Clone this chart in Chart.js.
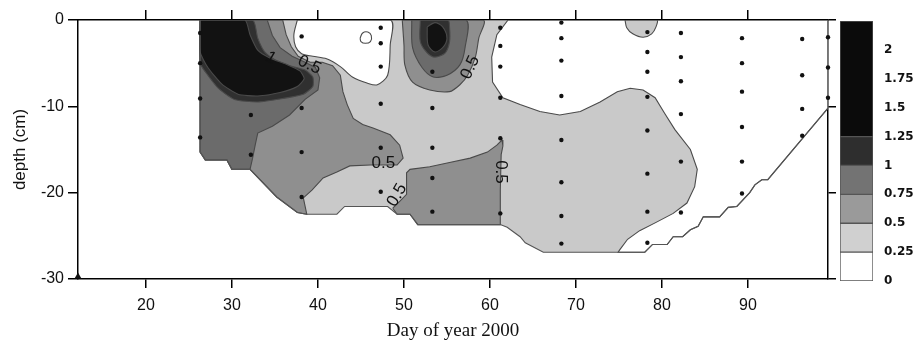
<!DOCTYPE html>
<html>
<head>
<meta charset="utf-8">
<script src="https://cdn.jsdelivr.net/npm/chart.js@4.4.1/dist/chart.umd.min.js"></script>
<style>
  html, body { margin: 0; padding: 0; background: #fff; }
  #wrap { position: relative; width: 914px; height: 343px; }
  #main { position: absolute; left: 0; top: 0; }
  #bar { position: absolute; left: 830px; top: 0; }
</style>
</head>
<body>
<div id="wrap">
  <canvas id="main" width="914" height="343"></canvas>
  <canvas id="bar" width="84" height="343"></canvas>
</div>
<script>
// axis ticks
const xTicks = [20, 30, 40, 50, 60, 70, 80, 90];
const yTicks = [-30, -20, -10, 0];

// colour bar
const barTicks = [0, 0.25, 0.5, 0.75, 1, 1.25, 1.5, 1.75, 2];
const barBands = [0.25, 0.25, 0.25, 0.25, 0.25, 1.0];
const barColors = ['#ffffff', '#d0d0d0', '#9a9a9a', '#737373', '#2e2e2e', '#0b0b0b'];

// sampling points [day, depth]
const samples = [
  [26.3, -1.5], [26.3, -5.0], [26.3, -9.1], [26.3, -13.6],
  [32.2, -11.0], [32.2, -15.6],
  [38.1, -1.9], [38.1, -10.2], [38.1, -15.3], [38.1, -20.5],
  [47.3, -0.9], [47.3, -2.7], [47.3, -5.4], [47.3, -9.7], [47.3, -14.8], [47.3, -19.9],
  [53.3, -6.0], [53.3, -10.2], [53.3, -14.8], [53.3, -18.3], [53.3, -22.2],
  [61.2, -0.9], [61.2, -3.0], [61.2, -5.4], [61.2, -9.0], [61.2, -13.7], [61.2, -22.4],
  [68.3, -0.3], [68.3, -2.1], [68.3, -4.7], [68.3, -8.8], [68.3, -13.9], [68.3, -18.8], [68.3, -22.7], [68.3, -25.9],
  [78.3, -1.4], [78.3, -3.7], [78.3, -6.0], [78.3, -8.9], [78.3, -12.8], [78.3, -17.8], [78.3, -22.2], [78.3, -25.8],
  [82.2, -1.5], [82.2, -4.3], [82.2, -7.1], [82.2, -10.9], [82.2, -16.4], [82.2, -22.3],
  [89.3, -2.1], [89.3, -5.0], [89.3, -8.3], [89.3, -12.4], [89.3, -16.4], [89.3, -20.1],
  [96.3, -2.2], [96.3, -6.4], [96.3, -10.3], [96.3, -13.4],
  [99.3, -2.0], [99.3, -5.5], [99.3, -9.0]
];

// gridded area outline
const domain = [
  [26.3, 0], [99.3, 0], [99.3, -10.2], [92.3, -18.5], [91.6, -18.5], [90.8, -19.1], [90.2, -20.0],
  [88.7, -21.6], [87.7, -21.7], [86.7, -22.8], [84.8, -22.8], [84.2, -23.9], [83.3, -24.3],
  [82.4, -25.1], [81.3, -25.1], [80.6, -26.0], [78.9, -26.0], [78.0, -26.9], [66.2, -26.9],
  [64.1, -25.8], [63.5, -25.1], [62.0, -24.0], [61.2, -23.7], [51.6, -23.7], [50.7, -22.5],
  [49.2, -22.5], [48.1, -21.6], [43.1, -21.6], [42.2, -22.5], [38.7, -22.5], [37.6, -22.3],
  [35.2, -20.5], [32.1, -17.3], [30.0, -17.3], [29.4, -16.2], [26.9, -16.2], [26.3, -15.3], [26.3, 0]
];

// below 0.25
const whiteA = [
  [37.6, 0], [37.2, -1.7], [37.4, -3.1], [38.1, -3.9], [39.4, -4.2], [41.0, -4.5], [42.6, -5.4],
  [44.0, -6.6], [45.7, -7.3], [46.9, -7.5], [48.1, -6.4], [48.4, -2.9], [48.4, 0], [37.6, 0]
];
const whiteB = [
  [62.1, 0], [60.8, -1.7], [60.2, -4.3], [60.3, -7.2], [61.5, -9.0], [63.5, -9.8], [65.8, -10.6],
  [68.1, -11.0], [70.5, -10.6], [72.8, -9.5], [74.8, -8.3], [76.3, -7.9], [77.8, -8.1], [79.2, -9.0],
  [80.3, -10.8], [81.5, -12.7], [83.3, -15.0], [84.1, -17.3], [83.8, -19.3], [82.9, -21.2],
  [81.3, -22.4], [79.2, -23.5], [77.4, -24.4], [76.0, -25.4], [75.1, -26.6], [74.9, -26.9],
  [78.0, -26.9], [78.9, -26.0], [80.6, -26.0], [81.3, -25.1], [82.4, -25.1], [83.3, -24.3],
  [84.2, -23.9], [84.8, -22.8], [86.7, -22.8], [87.7, -21.7], [88.7, -21.6], [90.2, -20.0],
  [90.8, -19.1], [91.6, -18.5], [92.3, -18.5], [99.3, -10.2], [99.3, 0], [62.1, 0]
];
const island = [
  [75.7, 0], [75.9, -0.9], [76.6, -1.6], [77.8, -2.0], [78.8, -1.6], [79.3, -0.8], [79.4, 0], [75.7, 0]
];
const ring = [
  [44.9, -2.1], [45.2, -1.5], [45.8, -1.4], [46.2, -1.8], [46.1, -2.5], [45.5, -2.7], [45.0, -2.5], [44.9, -2.1]
];

// 0.5 and up
const left05 = [
  [26.3, 0], [35.9, 0], [36.3, -1.7], [36.9, -3.1], [37.7, -4.2], [39.1, -4.9], [40.5, -4.9],
  [41.7, -5.3], [42.6, -6.4], [42.9, -8.3], [43.4, -9.8], [44.1, -11.4], [45.2, -12.1], [46.4, -12.5],
  [48.4, -13.3], [49.5, -14.5], [49.9, -16.0], [49.2, -16.8], [46.1, -16.8], [43.7, -16.9],
  [42.2, -17.6], [40.6, -18.3], [39.3, -19.7], [38.3, -20.6], [38.7, -22.5], [37.6, -22.3],
  [35.2, -20.5], [32.1, -17.3], [30.0, -17.3], [29.4, -16.2], [26.9, -16.2], [26.3, -15.3], [26.3, 0]
];
const bottom05 = [
  [48.7, -21.8], [49.5, -21.0], [50.3, -20.2], [50.3, -17.7], [50.7, -17.3], [53.0, -17.0],
  [55.3, -16.5], [57.7, -16.0], [59.7, -15.3], [60.8, -14.5], [61.4, -13.9], [61.5, -14.6],
  [61.3, -15.6], [61.2, -19.7], [61.2, -23.7], [51.6, -23.7], [50.7, -22.5], [49.2, -22.5], [48.7, -21.8]
];
const peak05 = [
  [49.8, 0], [50.0, -2.9], [50.1, -5.2], [51.0, -7.2], [53.0, -8.1], [55.3, -8.3], [56.5, -7.5],
  [57.4, -6.4], [58.3, -4.3], [58.7, -2.1], [59.2, 0], [49.8, 0]
];

// 0.75 and up
const left075 = [
  [26.3, 0], [34.1, 0], [34.7, -1.8], [35.6, -3.2], [37.0, -4.2], [38.5, -4.9], [39.7, -5.5],
  [40.2, -6.7], [40.0, -8.1], [38.5, -9.2], [36.7, -11.0], [34.7, -12.3], [33.0, -13.1],
  [32.7, -14.5], [32.4, -16.0], [32.1, -17.3], [30.0, -17.3], [29.4, -16.2], [26.9, -16.2], [26.3, -15.3], [26.3, 0]
];
const peak075 = [
  [50.9, 0], [51.0, -3.2], [52.1, -5.5], [53.4, -6.6], [55.0, -6.4], [56.5, -5.2], [57.1, -3.2], [57.2, 0], [50.9, 0]
];

// 1 and up
const left1 = [
  [26.3, 0], [32.4, 0], [33.0, -2.1], [33.8, -3.7], [35.0, -4.6], [36.7, -5.3], [38.5, -5.8],
  [39.4, -6.6], [39.4, -7.7], [38.3, -8.6], [35.9, -9.1], [33.0, -9.5], [30.3, -9.2], [28.4, -7.9],
  [26.9, -6.0], [26.3, -5.0], [26.3, 0]
];
const peak1 = [
  [51.9, 0], [51.9, -2.5], [52.7, -3.8], [53.6, -4.3], [54.8, -3.8], [55.3, -2.5], [55.3, -0.9], [55.1, 0], [51.9, 0]
];

// 1.25 and up
const left125 = [
  [26.3, 0], [31.5, 0], [32.1, -1.7], [33.0, -3.5], [34.4, -4.4], [36.5, -5.2], [37.9, -5.9],
  [38.4, -6.8], [37.6, -7.7], [35.6, -8.4], [33.0, -8.8], [30.7, -8.6], [28.8, -7.4], [27.2, -5.5],
  [26.3, -3.7], [26.3, 0]
];
const peak125 = [
  [52.7, -0.8], [52.8, -2.9], [53.6, -3.7], [54.5, -3.2], [55.0, -2.1], [54.5, -0.8], [53.6, -0.3], [52.7, -0.8]
];

// contour labels [text, day, depth, angle]
const contourLabels = [
  ['1', 34.5, -4.4, 30],
  ['0.5', 39.0, -5.2, 25],
  ['0.5', 57.7, -5.5, -65],
  ['0.5', 47.6, -16.6, 0],
  ['0.5', 49.2, -20.3, -60],
  ['0.5', 61.2, -17.6, 90]
];

const fillLight = '#c9c9c9';
const fillMid = '#8f8f8f';
const fillMidDark = '#6b6b6b';
const fillDark = '#303030';
const fillBlack = '#121212';
const lineGrey = '#4a4a4a';

function poly(pts, color, extra) {
  return Object.assign({
    data: pts.map(([x, y]) => ({ x, y })),
    showLine: true,
    fill: 'shape',
    backgroundColor: color,
    borderColor: lineGrey,
    borderWidth: 1.1,
    pointRadius: 0,
    tension: 0
  }, extra || {});
}

// painted bottom to top
const layers = [
  poly(domain, fillLight, { borderWidth: 0 }),
  poly(whiteA, '#ffffff', { tension: 0.3 }),
  poly(whiteB, '#ffffff'),
  poly(island, fillLight, { tension: 0.3 }),
  poly(ring, '#ffffff', { tension: 0.4 }),
  poly(left05, fillMid),
  poly(bottom05, fillMid),
  poly(peak05, fillMid, { tension: 0.3 }),
  poly(left075, fillMidDark),
  poly(peak075, fillMidDark, { tension: 0.3 }),
  poly(left1, fillDark, { tension: 0.2 }),
  poly(peak1, fillDark, { tension: 0.3 }),
  poly(left125, fillBlack, { tension: 0.2 }),
  poly(peak125, fillBlack, { tension: 0.3 }),
  poly(domain, 'rgba(0,0,0,0)', { fill: false, borderColor: '#555' }),
  {
    data: samples.map(([x, y]) => ({ x, y })),
    pointRadius: 2.2,
    pointBackgroundColor: '#111',
    pointBorderWidth: 0,
    clip: false
  },
  {
    data: [{ x: 12.1, y: -29.7 }],
    pointStyle: 'triangle',
    pointRadius: 4,
    pointBackgroundColor: '#111',
    pointBorderWidth: 0,
    clip: false
  }
];
const datasets = layers.map((d, i) => Object.assign(d, { order: layers.length - i }));

const labelPlugin = {
  id: 'contourLabels',
  afterDatasetsDraw(chart) {
    const { ctx, scales } = chart;
    ctx.save();
    ctx.font = '17px "Liberation Sans"';
    ctx.fillStyle = '#111';
    ctx.textAlign = 'center';
    ctx.textBaseline = 'middle';
    contourLabels.forEach(([t, d, z, a]) => {
      ctx.save();
      ctx.translate(scales.x.getPixelForValue(d), scales.y.getPixelForValue(z));
      ctx.rotate(a * Math.PI / 180);
      ctx.fillText(t, 0, 0);
      ctx.restore();
    });
    ctx.restore();
  }
};

const tickFont = { family: 'Liberation Sans', size: 16 };
const axisGrid = (len) => ({ drawOnChartArea: false, tickLength: len, color: '#000', lineWidth: 1.5 });
const axisBorder = { color: '#000', width: 1.5 };

new Chart(document.getElementById('main'), {
  type: 'scatter',
  data: { datasets },
  plugins: [labelPlugin],
  options: {
    responsive: false,
    animation: false,
    layout: { padding: 0 },
    plugins: { legend: { display: false }, tooltip: { enabled: false } },
    scales: {
      x: {
        type: 'linear', position: 'bottom', min: 12.1, max: 99.3,
        afterBuildTicks: s => { s.ticks = xTicks.map(v => ({ value: v })); },
        afterFit: s => { s.height = 64; },
        ticks: { font: tickFont, color: '#111', padding: 8, maxRotation: 0 },
        grid: axisGrid(9), border: axisBorder,
        title: { display: true, text: 'Day of year 2000', color: '#111',
                 font: { family: 'Liberation Serif', size: 19 }, padding: { top: 0, bottom: 1 } }
      },
      x2: {
        type: 'linear', position: 'top', min: 12.1, max: 99.3,
        afterBuildTicks: s => { s.ticks = xTicks.map(v => ({ value: v })); },
        afterFit: s => { s.height = 20; },
        ticks: { display: false },
        grid: axisGrid(10), border: axisBorder
      },
      y: {
        type: 'linear', position: 'left', min: -30, max: 0,
        afterBuildTicks: s => { s.ticks = yTicks.map(v => ({ value: v })); },
        afterFit: s => { s.width = 78; },
        ticks: { font: tickFont, color: '#111', padding: 4 },
        grid: axisGrid(10), border: axisBorder,
        title: { display: true, text: 'depth (cm)', color: '#111',
                 font: { family: 'Liberation Sans', size: 17 }, padding: { top: 10, bottom: 0 } }
      },
      y2: {
        type: 'linear', position: 'right', min: -30, max: 0,
        afterBuildTicks: s => { s.ticks = yTicks.map(v => ({ value: v })); },
        afterFit: s => { s.width = 86; },
        ticks: { display: false },
        grid: axisGrid(8), border: axisBorder
      }
    }
  }
});

new Chart(document.getElementById('bar'), {
  type: 'bar',
  data: {
    labels: [''],
    datasets: barBands.map((v, i) => ({
      data: [v],
      backgroundColor: barColors[i],
      borderColor: '#555',
      borderWidth: 1,
      borderSkipped: false,
      barPercentage: 1,
      categoryPercentage: 1
    }))
  },
  options: {
    responsive: false,
    animation: false,
    layout: { padding: { left: 10, top: 21, bottom: 62, right: 0 } },
    plugins: { legend: { display: false }, tooltip: { enabled: false } },
    scales: {
      x: { display: false, stacked: true },
      y: {
        stacked: true, position: 'right', min: 0, max: 2.25,
        afterBuildTicks: s => { s.ticks = barTicks.map(v => ({ value: v })); },
        afterFit: s => { s.width = 41; },
        grid: { display: false },
        border: { display: false },
        ticks: {
          padding: 3, color: '#111',
          font: { family: 'DejaVu Sans', weight: 'bold', size: 12 },
          callback: v => String(v)
        }
      }
    }
  }
});
</script>
</body>
</html>
